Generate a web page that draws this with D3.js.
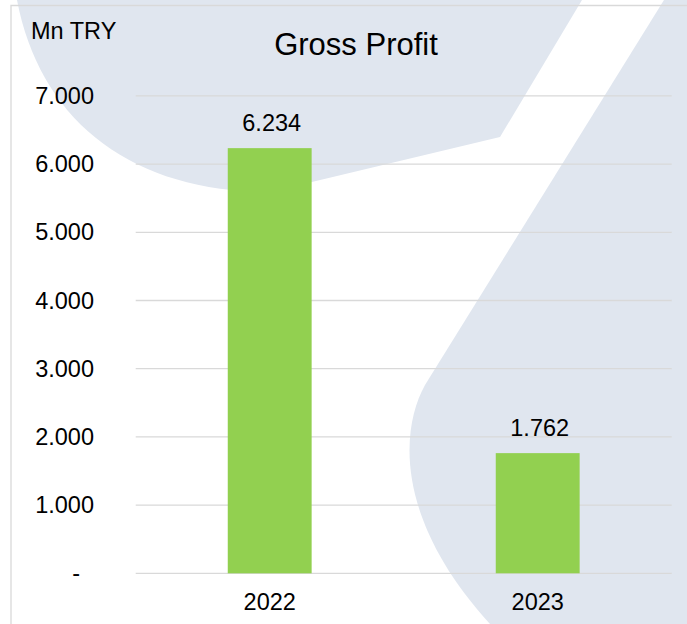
<!DOCTYPE html>
<html lang="en">
<head>
<meta charset="UTF-8" />
<title>Gross Profit</title>
<style>
  body { margin: 0; background: #fff; }
  svg { display: block; font-family: "Liberation Sans", Arial, sans-serif; }
  .grid line { stroke: #d9d9d9; stroke-width: 1.3px; }
  .axis text { fill: #000; font-size: 23.5px; }
  .axis path, .axis line { display: none; }
  .label { fill: #000; font-size: 23.5px; text-anchor: middle; }
</style>
</head>
<body>
<svg width="687" height="624"></svg>
<script src="https://d3js.org/d3.v7.min.js"></script>
<script>
  const years = ["2022", "2023"];
  const grossProfit = [6234, 1762];
  const yTicks = [0, 1000, 2000, 3000, 4000, 5000, 6000, 7000];
  const title = "Gross Profit";
  const unit = "Mn TRY";

  const width = 687, height = 624;
  const plot = { left: 135.7, right: 671.7, top: 95.9, bottom: 573.3 };

  const svg = d3.select("svg");

  // decorative background shapes (watermark behind the chart)
  const bg = svg.append("g").attr("fill", "#e0e6ef");
  bg.append("path")
    .attr("d", "M17,0 C40,120 130,192 270,192 L500,137 L582,0 Z");
  bg.append("path")
    .attr("d", "M664,0 L425,385 C400,430 395,520 490,624 L700,624 L700,0 Z");

  // chart border
  svg.append("path")
    .attr("d", `M11,${height + 5} L11,5.5 L${width + 5},5.5`)
    .attr("fill", "none")
    .attr("stroke", "#d9d9d9")
    .attr("stroke-width", 1.3);

  const trLocale = d3.formatLocale({ decimal: ",", thousands: ".", grouping: [3], currency: ["", ""] });
  const fmt = trLocale.format(",d");

  const x = d3.scaleBand()
    .domain(years)
    .range([plot.left, plot.right])
    .paddingInner(0.687)
    .paddingOuter(0.3435);

  const y = d3.scaleLinear()
    .domain([0, 7000])
    .range([plot.bottom, plot.top]);

  // gridlines
  svg.append("g")
    .attr("class", "grid")
    .selectAll("line")
    .data(yTicks)
    .join("line")
    .attr("x1", plot.left)
    .attr("x2", plot.right)
    .attr("y1", d => y(d))
    .attr("y2", d => y(d));

  // y axis
  const yAxis = svg.append("g")
    .attr("class", "axis")
    .attr("transform", `translate(${plot.left},0)`)
    .call(d3.axisLeft(y).tickValues(yTicks).tickSize(0).tickPadding(41.7)
      .tickFormat(d => d === 0 ? "-" : fmt(d)));
  yAxis.selectAll("text").filter(d => d === 0).attr("dx", "-14");

  // x axis
  svg.append("g")
    .attr("class", "axis")
    .attr("transform", `translate(0,${plot.bottom})`)
    .call(d3.axisBottom(x).tickSize(0).tickPadding(20));

  const data = years.map((yr, i) => ({ year: yr, value: grossProfit[i] }));

  // bars
  svg.append("g")
    .selectAll("rect")
    .data(data)
    .join("rect")
    .attr("x", d => x(d.year))
    .attr("y", d => y(d.value))
    .attr("width", x.bandwidth())
    .attr("height", d => y(0) - y(d.value))
    .attr("fill", "#92d050");

  // value labels
  svg.append("g")
    .selectAll("text")
    .data(data)
    .join("text")
    .attr("class", "label")
    .attr("x", d => x(d.year) + x.bandwidth() / 2 + 2)
    .attr("y", d => y(d.value) - 17)
    .text(d => fmt(d.value));

  // title and unit
  svg.append("text")
    .attr("x", 356)
    .attr("y", 55)
    .attr("text-anchor", "middle")
    .attr("font-size", "31px")
    .text(title);

  svg.append("text")
    .attr("x", 31)
    .attr("y", 39)
    .attr("font-size", "23.5px")
    .text(unit);
</script>
</body>
</html>
